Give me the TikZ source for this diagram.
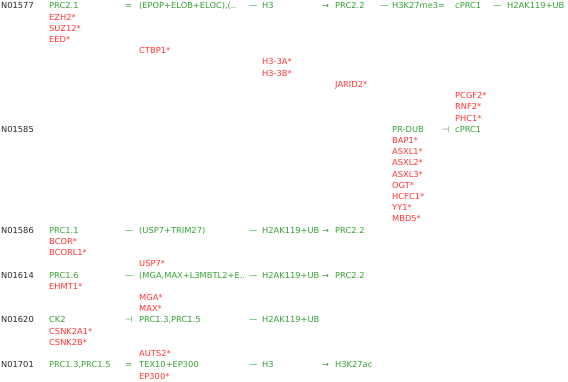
\documentclass[tikz,border=0pt]{standalone}
\usepackage{fontspec}
\setmainfont{DejaVu Sans}
\definecolor{gtxt}{RGB}{52,160,52}
\definecolor{rtxt}{RGB}{255,51,51}
\definecolor{ktxt}{RGB}{40,40,40}
\tikzset{
  cell/.style={inner sep=0pt, anchor=base west, font=\fontsize{8.3}{10}\selectfont},
  code/.style={cell, text=ktxt},
  gr/.style={cell, text=gtxt},
  rd/.style={cell, text=rtxt},
  op/.style={cell, text=gtxt},
}
\newcommand{\rowy}[1]{8.8+11.22*#1}
\begin{document}
\begin{tikzpicture}[x=1pt,y=-1pt]
\useasboundingbox (0,0) rectangle (568,381);
% ---- N01577
\node[code] (n1) at (1,{\rowy{0}}) {N01577};
\node[gr] (a1) at (49,{\rowy{0}}) {PRC2.1};
\node[op] (a1o) at (125,{\rowy{0}}) {=};
\node[gr] (a2) at (139,{\rowy{0}}) {(EPOP+ELOB+ELOC),(..};
\node[op] (a2o) at (249,{\rowy{0}}) {—};
\node[gr] (a3) at (262,{\rowy{0}}) {H3};
\node[op] (a3o) at (322,{\rowy{0}}) {→};
\node[gr] (a4) at (335,{\rowy{0}}) {PRC2.2};
\node[op] (a4o) at (380,{\rowy{0}}) {—};
\node[gr] (a5) at (392,{\rowy{0}}) {H3K27me3};
\node[op] (a5o) at (438,{\rowy{0}}) {=};
\node[gr] (a6) at (455,{\rowy{0}}) {cPRC1};
\node[op] (a6o) at (493,{\rowy{0}}) {—};
\node[gr] (a7) at (507,{\rowy{0}}) {H2AK119+UB};
\node[rd] (a1r1) at (49,{\rowy{1}}) {EZH2*};
\node[rd] (a1r2) at (49,{\rowy{2}}) {SUZ12*};
\node[rd] (a1r3) at (49,{\rowy{3}}) {EED*};
\node[rd] (a2r1) at (139,{\rowy{4}}) {CTBP1*};
\node[rd] (a3r1) at (262,{\rowy{5}}) {H3-3A*};
\node[rd] (a3r2) at (262,{\rowy{6}}) {H3-3B*};
\node[rd] (a4r1) at (335,{\rowy{7}}) {JARID2*};
\node[rd] (a6r1) at (455,{\rowy{8}}) {PCGF2*};
\node[rd] (a6r2) at (455,{\rowy{9}}) {RNF2*};
\node[rd] (a6r3) at (455,{\rowy{10}}) {PHC1*};
% ---- N01585
\node[code] (n2) at (1,{\rowy{11}}) {N01585};
\node[gr] (b5) at (392,{\rowy{11}}) {PR-DUB};
\node[op] (b5o) at (442,{\rowy{11}}) {⊣};
\node[gr] (b6) at (455,{\rowy{11}}) {cPRC1};
\node[rd] (b5r1) at (392,{\rowy{12}}) {BAP1*};
\node[rd] (b5r2) at (392,{\rowy{13}}) {ASXL1*};
\node[rd] (b5r3) at (392,{\rowy{14}}) {ASXL2*};
\node[rd] (b5r4) at (392,{\rowy{15}}) {ASXL3*};
\node[rd] (b5r5) at (392,{\rowy{16}}) {OGT*};
\node[rd] (b5r6) at (392,{\rowy{17}}) {HCFC1*};
\node[rd] (b5r7) at (392,{\rowy{18}}) {YY1*};
\node[rd] (b5r8) at (392,{\rowy{19}}) {MBD5*};
% ---- N01586
\node[code] (n3) at (1,{\rowy{20}}) {N01586};
\node[gr] (c1) at (49,{\rowy{20}}) {PRC1.1};
\node[op] (c1o) at (125,{\rowy{20}}) {—};
\node[gr] (c2) at (139,{\rowy{20}}) {(USP7+TRIM27)};
\node[op] (c2o) at (249,{\rowy{20}}) {—};
\node[gr] (c3) at (262,{\rowy{20}}) {H2AK119+UB};
\node[op] (c3o) at (322,{\rowy{20}}) {→};
\node[gr] (c4) at (335,{\rowy{20}}) {PRC2.2};
\node[rd] (c1r1) at (49,{\rowy{21}}) {BCOR*};
\node[rd] (c1r2) at (49,{\rowy{22}}) {BCORL1*};
% ---- N01614
\node[rd] (d2r0) at (139,{\rowy{23}}) {USP7*};
\node[code] (n4) at (1,{\rowy{24}}) {N01614};
\node[gr] (d1) at (49,{\rowy{24}}) {PRC1.6};
\node[op] (d1o) at (125,{\rowy{24}}) {—};
\node[gr] (d2) at (139,{\rowy{24}}) {(MGA,MAX+L3MBTL2+E..};
\node[op] (d2o) at (249,{\rowy{24}}) {—};
\node[gr] (d3) at (262,{\rowy{24}}) {H2AK119+UB};
\node[op] (d3o) at (322,{\rowy{24}}) {→};
\node[gr] (d4) at (335,{\rowy{24}}) {PRC2.2};
\node[rd] (d1r1) at (49,{\rowy{25}}) {EHMT1*};
\node[rd] (d2r1) at (139,{\rowy{26}}) {MGA*};
\node[rd] (d2r2) at (139,{\rowy{27}}) {MAX*};
% ---- N01620
\node[code] (n5) at (1,{\rowy{28}}) {N01620};
\node[gr] (e1) at (49,{\rowy{28}}) {CK2};
\node[op] (e1o) at (125,{\rowy{28}}) {⊣};
\node[gr] (e2) at (139,{\rowy{28}}) {PRC1.3,PRC1.5};
\node[op] (e2o) at (249,{\rowy{28}}) {—};
\node[gr] (e3) at (262,{\rowy{28}}) {H2AK119+UB};
\node[rd] (e1r1) at (49,{\rowy{29}}) {CSNK2A1*};
\node[rd] (e1r2) at (49,{\rowy{30}}) {CSNK2B*};
% ---- N01701
\node[rd] (f2r0) at (139,{\rowy{31}}) {AUTS2*};
\node[code] (n6) at (1,{\rowy{32}}) {N01701};
\node[gr] (f1) at (49,{\rowy{32}}) {PRC1.3,PRC1.5};
\node[op] (f1o) at (125,{\rowy{32}}) {=};
\node[gr] (f2) at (139,{\rowy{32}}) {TEX10+EP300};
\node[op] (f2o) at (249,{\rowy{32}}) {—};
\node[gr] (f3) at (262,{\rowy{32}}) {H3};
\node[op] (f3o) at (322,{\rowy{32}}) {→};
\node[gr] (f4) at (335,{\rowy{32}}) {H3K27ac};
\node[rd] (f2r1) at (139,{\rowy{33}}) {EP300*};
\end{tikzpicture}
\end{document}
